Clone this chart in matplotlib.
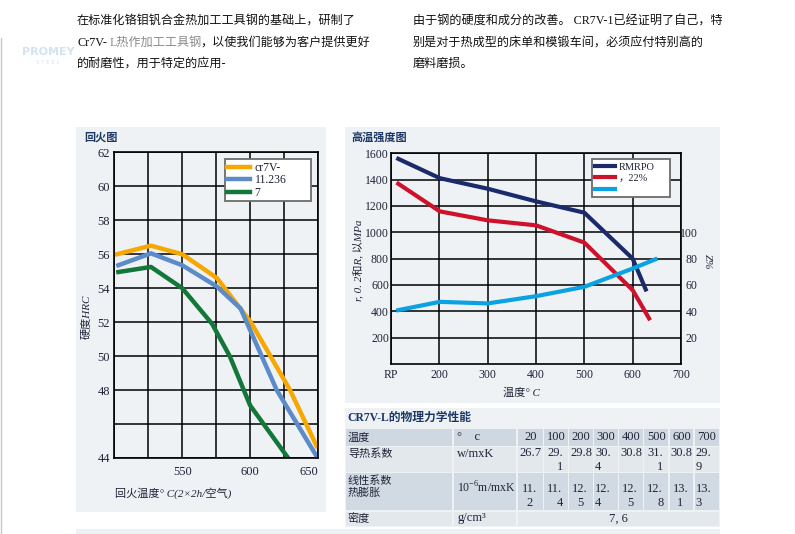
import matplotlib
matplotlib.use('Agg')
import matplotlib.pyplot as plt
from matplotlib.patches import Rectangle
from matplotlib.lines import Line2D

W, H = 795, 534
SERIF = ['Liberation Serif', 'DejaVu Serif', 'Noto Sans CJK SC']
CJK = ['Noto Sans CJK SC', 'DejaVu Sans']
plt.rcParams['font.family'] = SERIF
plt.rcParams['mathtext.fontset'] = 'custom'
plt.rcParams['mathtext.rm'] = 'Liberation Serif'

# ---------------- data: tempering chart ----------------
temper_temp_cr7v = [502, 527, 550, 575.5, 600.5, 629.4, 649]
temper_hrc_cr7v = [56.0, 56.5, 56.0, 54.6, 52.0, 48.0, 44.7]
temper_temp_11236 = [503, 527, 550, 575.5, 593, 619.6, 649]
temper_hrc_11236 = [55.35, 56.05, 55.35, 54.1, 52.8, 48.0, 44.1]
temper_temp_7 = [503, 527, 550, 572, 585, 600, 628]
temper_hrc_7 = [54.95, 55.25, 54.0, 51.9, 50.0, 47.1, 44.0]
temper_labels = ['cr7V-', '11.236', '7']
hrc_ticks = [44, 46, 48, 50, 52, 54, 56, 58, 60, 62]
hrc_tick_labels = ['44', '', '48', '50', '52', '54', '56', '58', '60', '62']
temper_x_ticks = [500, 525, 550, 575, 600, 625, 650]
temper_x_labels = ['', '', '550', '', '600', '', '650']

# ---------------- data: high temperature strength ----------------
hot_temp_rm = [115, 201, 300, 400, 500, 600, 627]
hot_rm = [1558, 1411, 1331, 1235, 1149, 800, 566]
hot_temp_rp = [115, 201, 300, 400, 500, 600, 634]
hot_rp = [1369, 1159, 1091, 1053, 922, 561, 346]
hot_temp_z = [115, 201, 300, 400, 500, 600, 647]
hot_z = [40.9, 47.2, 46.0, 51.5, 58.6, 72.5, 79.5]
hot_labels = ['RMRPO', '，22%', ' ']
hot_x_ticks = [100, 200, 300, 400, 500, 600, 700]
hot_x_labels = ['RP', '200', '300', '400', '500', '600', '700']
strength_ticks = [200, 400, 600, 800, 1000, 1200, 1400, 1600]
z_ticks = [20, 40, 60, 80, 100]

# ---------------- data: table ----------------
table_temps = [20, 100, 200, 300, 400, 500, 600, 700]
thermal_conductivity = [26.7, 29.1, 29.8, 30.4, 30.8, 31.1, 30.8, 29.9]
thermal_expansion = [11.2, 11.4, 12.5, 12.4, 12.5, 12.8, 13.1, 13.3]
density_text = '7, 6'

# wrapping style of the cells (second line alignment), None = single line
conductivity_wrap = [None, 'right', None, 'left', None, 'right', None, 'left']
expansion_wrap = ['center', 'right', 'center', 'left', 'center', 'right', 'center', 'left']

# ---------------- colours ----------------
PANEL = '#eef2f5'
NAVY_T = '#1c3766'
TXT = '#1f2438'
C_ORANGE = '#f6a800'
C_BLUE = '#5b8bc9'
C_GREEN = '#13773a'
C_NAVY = '#1b2a6b'
C_RED = '#d0112b'
C_CYAN = '#0aa2e2'

fig = plt.figure(figsize=(W / 100, H / 100), dpi=100)
fig.patch.set_facecolor('white')

bg = fig.add_axes([0, 0, 1, 1])
bg.set_xlim(0, W)
bg.set_ylim(H, 0)
bg.axis('off')


def fig_rect(x0, y0, x1, y1):
    return [x0 / W, 1 - y1 / H, (x1 - x0) / W, (y1 - y0) / H]


def panel(x0, y0, x1, y1, color=PANEL):
    bg.add_patch(Rectangle((x0, y0), x1 - x0, y1 - y0, facecolor=color,
                           edgecolor='none'))


panel(76, 127, 326, 512)
panel(345, 127, 720, 403)
panel(345, 408, 720, 527)
panel(76, 529, 720, 534)

# page border line and faint watermark
bg.add_line(Line2D([1, 1], [38, 534], color='#c4c8cc', lw=1))
bg.text(48, 52, 'PROMEY', color='#d4e3ef', fontsize=8, fontweight='bold',
        ha='center', va='center', family=['DejaVu Sans'])
bg.text(48, 63, 'S T E E L', color='#d4e3ef', fontsize=4,
        ha='center', va='center', family=['DejaVu Sans'])

# ---------------- top text ----------------
BODY = 8.7
bg.text(77, 22, '在标准化铬钼钒合金热加工工具钢的基础上，研制了', fontsize=BODY,
        va='center', ha='left', color='#111', family=SERIF)
bg.text(77, 43, 'Cr7V-', fontsize=BODY, va='center', ha='left', color='#111',
        family=SERIF)
bg.text(110, 43, 'L热作加工工具钢', fontsize=BODY, va='center', ha='left',
        color='#8a8a8a', family=SERIF)
bg.text(200, 43, '，以使我们能够为客户提供更好', fontsize=BODY, va='center',
        ha='left', color='#111', family=SERIF)
bg.text(77, 64, '的耐磨性，用于特定的应用-', fontsize=BODY, va='center',
        ha='left', color='#111', family=SERIF)
bg.text(413, 22, '由于钢的硬度和成分的改善。 CR7V-1已经证明了自己，特',
        fontsize=BODY, va='center', ha='left', color='#111', family=SERIF)
bg.text(413, 43, '别是对于热成型的床单和模锻车间，必须应付特别高的',
        fontsize=BODY, va='center', ha='left', color='#111', family=SERIF)
bg.text(413, 64, '磨料磨损。', fontsize=BODY, va='center', ha='left',
        color='#111', family=SERIF)

# ---------------- titles ----------------
bg.text(84, 137, '回火图', fontsize=8, fontweight='bold', color=NAVY_T,
        va='center', ha='left', family=CJK)
bg.text(351, 137, '高温强度图', fontsize=8, fontweight='bold', color=NAVY_T,
        va='center', ha='left', family=CJK)

# ---------------- tempering chart ----------------
ax1 = fig.add_axes(fig_rect(114.3, 152.3, 318, 458))
ax1.set_facecolor('none')
ax1.set_xlim(500, 650)
ax1.set_ylim(44, 62)
ax1.set_xticks(temper_x_ticks)
ax1.set_xticklabels(temper_x_labels)
ax1.set_yticks(hrc_ticks)
ax1.set_yticklabels(hrc_tick_labels)
ax1.grid(True, color='black', lw=1.1)
ax1.set_axisbelow(True)
for s in ax1.spines.values():
    s.set_color('black')
    s.set_linewidth(1.2)
ax1.tick_params(axis='both', length=0, labelsize=9, colors=TXT)
ax1.tick_params(axis='y', pad=3)
ax1.tick_params(axis='x', pad=5.5)
ax1.get_xticklabels()[-1].set_horizontalalignment('right')

l1, = ax1.plot(temper_temp_cr7v, temper_hrc_cr7v, color=C_ORANGE, lw=3.2,
               label=temper_labels[0])
l2, = ax1.plot(temper_temp_11236, temper_hrc_11236, color=C_BLUE, lw=3.2,
               label=temper_labels[1])
l3, = ax1.plot(temper_temp_7, temper_hrc_7, color=C_GREEN, lw=3.2,
               label=temper_labels[2])
leg1 = ax1.legend(handles=[l1, l2, l3], loc='upper left',
                  bbox_to_anchor=(0.544, 0.866, 0.422, 0.111), mode='expand',
                  borderaxespad=0, fontsize=8.5, handlelength=1.9,
                  handletextpad=0.4, labelspacing=0.05, borderpad=0.2,
                  fancybox=False, framealpha=1)
leg1.get_frame().set_edgecolor('#6b6b6b')
leg1.get_frame().set_linewidth(1.3)
for t in leg1.get_texts():
    t.set_color(TXT)

bg.text(87, 317, '硬度HRC', rotation=90, fontsize=8, color=TXT,
        ha='center', va='center', family=SERIF, style='italic')
bg.text(115, 493, '回火温度° C(2×2h/空气)', fontsize=8, color=TXT,
        ha='left', va='center', family=SERIF, style='italic')

# ---------------- high temperature chart ----------------
ax2 = fig.add_axes(fig_rect(391, 153.3, 681, 364))
ax2.set_facecolor('none')
ax2.set_xlim(100, 700)
ax2.set_ylim(0, 1600)
ax2.set_xticks(hot_x_ticks)
ax2.set_xticklabels(hot_x_labels)
ax2.set_yticks(strength_ticks)
ax2.grid(True, color='black', lw=1.1)
ax2.set_axisbelow(True)
for s in ax2.spines.values():
    s.set_color('black')
    s.set_linewidth(1.2)
ax2.tick_params(axis='both', length=0, labelsize=8.5, colors=TXT)
ax2.tick_params(axis='y', pad=1.5)
ax2.tick_params(axis='x', pad=3.5)

m1, = ax2.plot(hot_temp_rm, hot_rm, color=C_NAVY, lw=3.0, label=hot_labels[0])
m2, = ax2.plot(hot_temp_rp, hot_rp, color=C_RED, lw=3.0, label=hot_labels[1])

ax2b = ax2.twinx()
ax2b.set_ylim(0, 160)
ax2b.set_yticks(z_ticks)
for s in ax2b.spines.values():
    s.set_visible(False)
ax2b.tick_params(axis='y', length=0, labelsize=8.5, colors=TXT, pad=12)
for lab in ax2b.get_yticklabels():
    lab.set_horizontalalignment('right')
m3, = ax2b.plot(hot_temp_z, hot_z, color=C_CYAN, lw=3.0, label=hot_labels[2])

leg2 = ax2b.legend(handles=[m1, m2, m3], labels=hot_labels, loc='upper left',
                   bbox_to_anchor=(0.693, 0.81, 0.269, 0.162), mode='expand',
                   borderaxespad=0, fontsize=7.5, handlelength=1.9,
                   handletextpad=0.4, labelspacing=0.2, borderpad=0.3,
                   fancybox=False, framealpha=1)
leg2.get_frame().set_edgecolor('#6b6b6b')
leg2.get_frame().set_linewidth(1.3)
for t in leg2.get_texts():
    t.set_color(TXT)

bg.text(358, 260, 'r, 0. 2和R, 以MPa', rotation=90, fontsize=8, color=TXT,
        ha='center', va='center', family=SERIF, style='italic')
bg.text(707, 262, 'Z%', rotation=-90, fontsize=8, color=TXT,
        ha='center', va='center', family=SERIF, style='italic')
bg.text(521, 393, '温度° C', fontsize=8, color=TXT,
        ha='center', va='center', family=SERIF, style='italic')

# ---------------- table ----------------
bg.text(347, 418, 'CR7V-L的物理力学性能', fontsize=8.5, fontweight='bold',
        color=NAVY_T, ha='left', va='center', family=SERIF)

col_edges = [345, 453, 517, 543.5, 568.5, 593.5, 618.5, 643.5, 669, 694, 719.5]
row_edges = [428.5, 446.5, 472.5, 511, 527]
row_colors = ['#cfd8e0', '#e3e8ed', '#d1dae2', '#e3e8ed']
gap = 0.8
for r in range(4):
    y0, y1 = row_edges[r], row_edges[r + 1]
    if r == 3:
        spans = [(col_edges[0], col_edges[1]), (col_edges[1], col_edges[2]),
                 (col_edges[2], col_edges[-1])]
    else:
        spans = [(col_edges[c], col_edges[c + 1]) for c in range(len(col_edges) - 1)]
    for x0, x1 in spans:
        bg.add_patch(Rectangle((x0 + gap, y0 + gap), x1 - x0 - 2 * gap,
                               y1 - y0 - 2 * gap, facecolor=row_colors[r],
                               edgecolor='none'))

TFS = 9
LFS = 8
# row labels
bg.text(348, 437.5, '温度', fontsize=LFS, color=TXT, ha='left', va='center', family=SERIF)
bg.text(457, 437.5, '°    c', fontsize=TFS, color=TXT, ha='left', va='center', family=SERIF)
bg.text(348, 454, '导热系数', fontsize=LFS, color=TXT, ha='left', va='center', family=SERIF)
bg.text(457, 454, 'w/mxK', fontsize=TFS, color=TXT, ha='left', va='center', family=SERIF)
bg.text(348, 481, '线性系数', fontsize=LFS, color=TXT, ha='left', va='center', family=SERIF)
bg.text(348, 492.5, '热膨胀', fontsize=LFS, color=TXT, ha='left', va='center', family=SERIF)
bg.text(457, 488, r'10$^{\mathregular{-6}}$m/mxK', fontsize=8.5, color=TXT,
        ha='left', va='center', family=SERIF)
bg.text(348, 518.5, '密度', fontsize=LFS, color=TXT, ha='left', va='center', family=SERIF)
bg.text(457, 518.5, 'g/cm³', fontsize=TFS, color=TXT, ha='left', va='center', family=SERIF)

centers = [(col_edges[i] + col_edges[i + 1]) / 2 for i in range(2, len(col_edges) - 1)]
for cx, t in zip(centers, table_temps):
    bg.text(cx, 437.5, str(t), fontsize=TFS, color=TXT, ha='center', va='center')

shift = {'left': -5, 'center': 0, 'right': 5}


def wrapped_cell(cx, value, wrap, y1, y2):
    s = f'{value:.1f}'
    if wrap is None:
        bg.text(cx, y1, s, fontsize=TFS, color=TXT, ha='center', va='center')
        return
    head, tail = s.split('.')
    fx = cx - 3 if wrap == 'left' else cx - 1
    bg.text(fx, y1, head + '.', fontsize=TFS, color=TXT, ha='center', va='center')
    bg.text(fx + shift[wrap], y2, tail, fontsize=TFS, color=TXT, ha='center',
            va='center')


for cx, v, w in zip(centers, thermal_conductivity, conductivity_wrap):
    wrapped_cell(cx, v, w, 453.5, 466.5)
for cx, v, w in zip(centers, thermal_expansion, expansion_wrap):
    wrapped_cell(cx, v, w, 489, 503)

bg.text((col_edges[2] + col_edges[-1]) / 2, 518.5, density_text, fontsize=TFS,
        color=TXT, ha='center', va='center')

fig.savefig('out.png', dpi=100, facecolor='white')
